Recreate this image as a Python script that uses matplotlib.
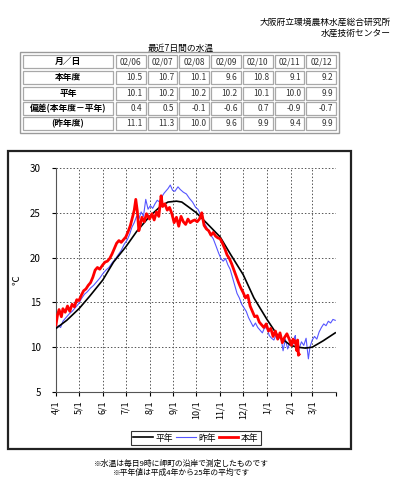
import matplotlib
matplotlib.use('Agg')
import matplotlib.pyplot as plt
from matplotlib.patches import Rectangle
import pandas as pd

plt.rcParams['font.family'] = ['Noto Sans CJK JP', 'DejaVu Sans']

# ---- table data (last 7 days) ----
tbl_dates = ['02/06', '02/07', '02/08', '02/09', '02/10', '02/11', '02/12']
tbl_rows = ['本年度', '平年', '偏差(本年度－平年)', '(昨年度)']
tbl_this = ['10.5', '10.7', '10.1', '9.6', '10.8', '9.1', '9.2']
tbl_norm = ['10.1', '10.2', '10.2', '10.2', '10.1', '10.0', '9.9']
tbl_diff = ['0.4', '0.5', '-0.1', '-0.6', '0.7', '-0.9', '-0.7']
tbl_last = ['11.1', '11.3', '10.0', '9.6', '9.9', '9.4', '9.9']

# ---- chart data ----
norm_days = ['04/01', '04/15', '05/01', '05/15', '06/01', '06/15', '07/01', '07/15',
             '08/01', '08/15', '08/25', '09/05', '09/12', '09/20', '10/01', '10/15',
             '11/01', '11/15', '12/01', '12/15', '01/01', '01/15', '02/01', '02/10',
             '02/20', '03/01', '03/15', '03/31']
norm_vals = [12.1, 13.0, 14.3, 15.7, 17.5, 19.5, 21.2, 22.9,
             24.6, 25.7, 26.2, 26.3, 26.2, 25.7, 25.0, 23.8,
             22.3, 20.3, 18.1, 15.5, 13.1, 11.3, 10.2, 10.0,
             9.9, 10.0, 10.7, 11.6]

this_days = ['04/01', '04/03', '04/05', '04/08', '04/10', '04/13', '04/16', '04/19', '04/22',
             '04/25', '04/28', '05/01', '05/04', '05/07', '05/10', '05/13', '05/16', '05/19',
             '05/22', '05/25', '05/28', '06/01', '06/04', '06/07', '06/10', '06/13', '06/16',
             '06/19', '06/22', '06/25', '06/28', '07/01', '07/04', '07/07', '07/10', '07/12',
             '07/14', '07/16', '07/18', '07/20', '07/22', '07/25', '07/28', '08/01', '08/04',
             '08/07', '08/10', '08/13', '08/16', '08/18', '08/21', '08/24', '08/27', '08/30',
             '09/02', '09/05', '09/08', '09/11', '09/14', '09/17', '09/20', '09/23', '09/26',
             '09/29', '10/02', '10/05', '10/08', '10/11', '10/14', '10/17', '10/20', '10/23',
             '10/26', '10/29', '11/01', '11/04', '11/07', '11/10', '11/13', '11/16', '11/19',
             '11/22', '11/25', '11/28', '12/01', '12/04', '12/07', '12/10', '12/13', '12/16',
             '12/19', '12/22', '12/25', '12/28', '12/31', '01/03', '01/06', '01/09', '01/12',
             '01/15', '01/18', '01/21', '01/24', '01/27', '01/30', '02/02', '02/04', '02/06',
             '02/07', '02/08', '02/09', '02/10', '02/11', '02/12']
this_vals = [12.5, 13.6, 14.2, 13.4, 14.3, 13.9, 14.6, 14.0, 14.8,
             14.5, 15.3, 15.2, 15.8, 16.3, 16.5, 16.9, 17.2, 17.8,
             18.6, 18.9, 18.7, 19.2, 19.5, 19.6, 19.9, 20.4, 21.0,
             21.6, 21.9, 21.7, 22.0, 22.3, 22.9, 23.6, 24.6, 25.3,
             26.5, 25.2, 23.0, 23.7, 24.5, 24.0, 24.9, 24.3, 24.9,
             24.2, 25.1, 24.6, 26.9, 25.7, 26.0, 25.3, 25.6, 24.9,
             23.9, 24.5, 23.5, 24.6, 24.0, 23.7, 24.3, 23.9, 24.1,
             24.2, 24.0, 24.3, 25.0, 23.6, 23.2, 23.0, 22.5, 22.8,
             22.4, 22.2, 22.1, 21.6, 21.0, 20.3, 19.9, 19.3, 18.6,
             17.9, 17.2, 16.6, 16.1, 15.5, 15.8, 14.6, 14.0, 13.4,
             13.5, 12.8, 12.5, 12.2, 12.6, 11.8, 12.1, 11.2, 11.8,
             10.9, 11.6, 10.5, 11.1, 11.5, 10.9, 10.2, 10.9, 10.5,
             10.7, 10.1, 9.6, 10.8, 9.1, 9.2]

last_days = ['04/01', '04/04', '04/07', '04/10', '04/14', '04/18', '04/22', '04/26', '05/01',
             '05/04', '05/08', '05/12', '05/16', '05/20', '05/24', '05/28', '06/01', '06/05',
             '06/09', '06/13', '06/17', '06/21', '06/25', '06/29', '07/03', '07/06', '07/09',
             '07/12', '07/15', '07/18', '07/21', '07/24', '07/27', '07/30', '08/02', '08/05',
             '08/08', '08/11', '08/14', '08/17', '08/20', '08/25', '08/28', '08/31', '09/03',
             '09/07', '09/10', '09/14', '09/18', '09/22', '09/26', '09/30', '10/03', '10/07',
             '10/11', '10/15', '10/19', '10/23', '10/27', '10/30', '11/02', '11/05', '11/08',
             '11/11', '11/14', '11/17', '11/20', '11/23', '11/26', '11/29', '12/02', '12/05',
             '12/08', '12/11', '12/14', '12/17', '12/20', '12/23', '12/26', '12/29', '01/01',
             '01/04', '01/07', '01/10', '01/13', '01/16', '01/19', '01/22', '01/25', '01/28',
             '01/31', '02/03', '02/06', '02/07', '02/08', '02/09', '02/10', '02/11', '02/12',
             '02/15', '02/18', '02/21', '02/24', '02/26', '03/01', '03/04', '03/07', '03/10',
             '03/13', '03/16', '03/19', '03/22', '03/25', '03/28', '03/31']
last_vals = [12.0, 12.4, 12.2, 12.9, 13.3, 13.7, 14.0, 14.4, 14.9,
             15.4, 15.9, 16.2, 16.6, 16.9, 17.3, 17.7, 18.2, 18.6,
             18.9, 19.4, 19.8, 20.3, 20.8, 21.5, 22.0, 22.6, 23.4,
             23.9, 24.6, 24.3, 25.1, 24.6, 26.5, 25.4, 25.8, 25.5,
             26.0, 26.4, 26.2, 26.8, 27.2, 27.7, 28.1, 27.5, 27.4,
             27.9, 27.6, 27.3, 27.1, 26.6, 26.2, 25.6, 25.4, 24.7,
             23.9, 23.3, 22.6, 22.1, 21.2, 20.5, 19.9, 19.6, 19.9,
             19.2, 18.7, 17.8, 16.9, 16.0, 15.5, 14.8, 14.4, 14.0,
             13.3, 12.8, 12.3, 12.7, 12.2, 11.9, 11.6, 12.2, 12.1,
             11.3, 11.0, 10.8, 11.4, 10.9, 11.3, 9.6, 10.9, 9.8,
             10.6, 10.1, 11.1, 11.3, 10.0, 9.6, 9.9, 9.4, 9.9,
             10.6, 10.2, 11.0, 8.7, 10.0, 10.8, 11.2, 10.9, 11.7,
             12.2, 12.6, 12.4, 12.9, 12.7, 13.1, 13.0]

month_labels = ['4/1', '5/1', '6/1', '7/1', '8/1', '9/1', '10/1', '11/1', '12/1', '1/1', '2/1', '3/1']


def to_dates(days):
    out = []
    for d in days:
        m = int(d[:2])
        y = 2013 if m >= 4 else 2014
        out.append(pd.Timestamp(f'{y}-{d[:2]}-{d[3:]}'))
    return out


W, H = 395, 480
fig = plt.figure(figsize=(W / 100, H / 100), dpi=100)

# overlay in pixel coordinates for table, frame and notes
ov = fig.add_axes([0, 0, 1, 1])
ov.set_xlim(0, W)
ov.set_ylim(H, 0)
ov.axis('off')

ov.text(391, 22, '大阪府立環境農林水産総合研究所', ha='right', va='center', fontsize=6.3)
ov.text(391, 33, '水産技術センター', ha='right', va='center', fontsize=6.3)
ov.text(181, 48, '最近7日間の水温', ha='center', va='center', fontsize=6.3)

# table
x0, x1 = 23, 113
col_w = (337 - 115) / 7
row_top = [55, 71, 87, 102, 117]
row_h = 13
ov.add_patch(Rectangle((20, 52), 319, 81, fill=False, ec='#9a9a9a', lw=1.0))
rows = [['月／日'] + tbl_dates, [tbl_rows[0]] + tbl_this, [tbl_rows[1]] + tbl_norm,
        [tbl_rows[2]] + tbl_diff, [tbl_rows[3]] + tbl_last]
for r, row in enumerate(rows):
    yt = row_top[r]
    ov.add_patch(Rectangle((x0, yt), x1 - x0, row_h, fill=False, ec='#a8a8a8', lw=0.9))
    ov.text((x0 + x1) / 2, yt + row_h / 2, row[0], ha='center', va='center',
            fontsize=6.3, fontweight='bold')
    for c in range(7):
        cx = 115 + c * col_w
        ov.add_patch(Rectangle((cx + 1, yt), col_w - 2, row_h, fill=False, ec='#a8a8a8', lw=0.9))
        if r == 0:
            ov.text(cx + col_w / 2, yt + row_h / 2, row[c + 1], ha='center', va='center',
                    fontsize=6.0, color='#333333')
        else:
            ov.text(cx + col_w - 4, yt + row_h / 2, row[c + 1], ha='right', va='center',
                    fontsize=6.0, color='#333333')

# chart frame
ov.add_patch(Rectangle((8, 151), 343, 298, fill=False, ec='#222222', lw=1.6))

ov.text(181, 464, '※水温は毎日9時に岬町の沿岸で測定したものです', ha='center', va='center', fontsize=5.6)
ov.text(181, 473, '※平年値は平成4年から25年の平均です', ha='center', va='center', fontsize=5.6)

# chart
ax = fig.add_axes([56 / W, 1 - 392 / H, 280 / W, 224 / H])
ax.patch.set_alpha(0)
ax.plot(to_dates(norm_days), norm_vals, color='black', lw=1.2, label='平年', zorder=3)
ax.plot(to_dates(last_days), last_vals, color='#5555ff', lw=0.8, label='昨年', zorder=2)
ax.plot(to_dates(this_days), this_vals, color='#ff0000', lw=2.0, label='本年', zorder=4)

ax.set_xlim(pd.Timestamp('2013-04-01'), pd.Timestamp('2014-04-01'))
ax.set_ylim(5, 30)
ax.set_yticks([5, 10, 15, 20, 25, 30])
ticks = pd.date_range('2013-04-01', '2014-04-01', freq='MS')
ax.set_xticks(ticks)
ax.set_xticklabels(month_labels + [''], rotation=90, fontsize=6.5)
ax.tick_params(axis='y', labelsize=7, length=3, pad=8)
ax.tick_params(axis='x', length=3, pad=3)
ax.grid(True, color='#555555', linestyle=(0, (1.5, 2)), lw=0.7)
for s in ['top', 'right']:
    ax.spines[s].set_visible(False)
ax.spines['left'].set_color('#555555')
ax.spines['bottom'].set_color('#555555')
ax.set_ylabel('℃', fontsize=7, labelpad=6)

leg = fig.legend(loc='center', bbox_to_anchor=(196 / W, 1 - 438 / H), ncol=3,
                 fontsize=6.3, frameon=True, fancybox=False, edgecolor='black',
                 handlelength=2.2, handletextpad=0.3, columnspacing=0.4,
                 borderpad=0.25, borderaxespad=0)
leg.get_frame().set_linewidth(0.8)

fig.savefig('out.png', dpi=100)
